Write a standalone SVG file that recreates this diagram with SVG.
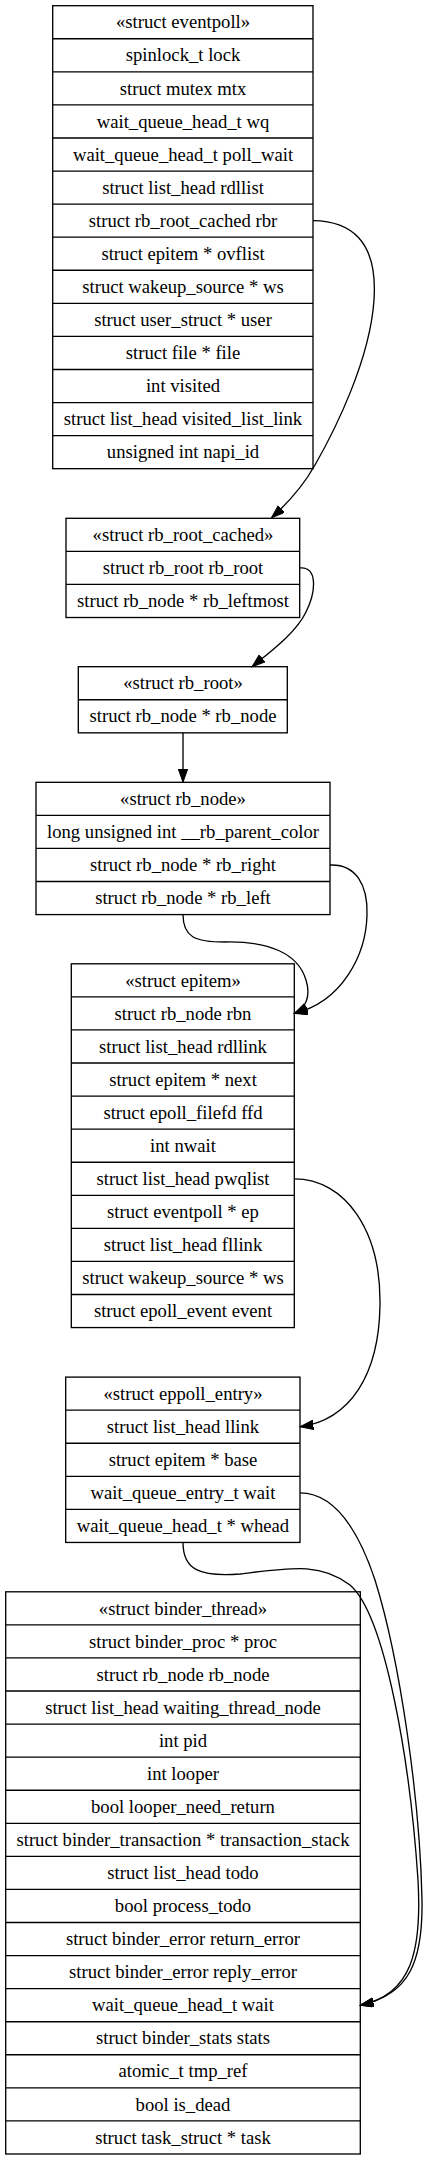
<svg xmlns="http://www.w3.org/2000/svg" width="428" height="2160" viewBox="0 0 428 2160">
<style>
.box{fill:#fff;stroke:#000;stroke-width:1.33}
.sep{fill:none;stroke:#000;stroke-width:1.33}
text{font-family:"Liberation Serif","Times New Roman",serif;font-size:18.67px;fill:#000;text-anchor:middle}
.edge{fill:none;stroke:#000;stroke-width:1.33}
</style>
<defs>
<marker id="arr" markerUnits="userSpaceOnUse" markerWidth="15" markerHeight="11" refX="13.3" refY="4.67" orient="auto">
<path d="M0,0 L13.3,4.67 L0,9.33 z" fill="#000" stroke="#000" stroke-width="1"/>
</marker>
</defs>
<rect width="428" height="2160" fill="#fff"/>
<g id="eventpoll">
<rect class="box" x="52.7" y="5.7" width="260.3" height="462.98"/>
<path class="sep" d="M52.7,38.77H313M52.7,71.84H313M52.7,104.91H313M52.7,137.98H313M52.7,171.05H313M52.7,204.12H313M52.7,237.19H313M52.7,270.26H313M52.7,303.33H313M52.7,336.4H313M52.7,369.47H313M52.7,402.54H313M52.7,435.61H313"/>
<text x="183" y="28.4">«struct eventpoll»</text>
<text x="183" y="61.47">spinlock_t lock</text>
<text x="183" y="94.54">struct mutex mtx</text>
<text x="183" y="127.61">wait_queue_head_t wq</text>
<text x="183" y="160.68">wait_queue_head_t poll_wait</text>
<text x="183" y="193.75">struct list_head rdllist</text>
<text x="183" y="226.82">struct rb_root_cached rbr</text>
<text x="183" y="259.89">struct epitem * ovflist</text>
<text x="183" y="292.96">struct wakeup_source * ws</text>
<text x="183" y="326.03">struct user_struct * user</text>
<text x="183" y="359.1">struct file * file</text>
<text x="183" y="392.17">int visited</text>
<text x="183" y="425.24">struct list_head visited_list_link</text>
<text x="183" y="458.31">unsigned int napi_id</text>
</g>
<g id="rb_root_cached">
<rect class="box" x="66" y="518.3" width="233.7" height="99.21"/>
<path class="sep" d="M66,551.37H299.7M66,584.44H299.7"/>
<text x="183" y="541">«struct rb_root_cached»</text>
<text x="183" y="574.07">struct rb_root rb_root</text>
<text x="183" y="607.14">struct rb_node * rb_leftmost</text>
</g>
<g id="rb_root">
<rect class="box" x="78.3" y="666.7" width="209" height="66.14"/>
<path class="sep" d="M78.3,699.77H287.3"/>
<text x="183" y="689.4">«struct rb_root»</text>
<text x="183" y="722.47">struct rb_node * rb_node</text>
</g>
<g id="rb_node">
<rect class="box" x="36" y="782.3" width="294" height="132.28"/>
<path class="sep" d="M36,815.37H330M36,848.44H330M36,881.51H330"/>
<text x="183" y="805">«struct rb_node»</text>
<text x="183" y="838.07">long unsigned int __rb_parent_color</text>
<text x="183" y="871.14">struct rb_node * rb_right</text>
<text x="183" y="904.21">struct rb_node * rb_left</text>
</g>
<g id="epitem">
<rect class="box" x="71.3" y="963.8" width="223" height="363.77"/>
<path class="sep" d="M71.3,996.87H294.3M71.3,1029.94H294.3M71.3,1063.01H294.3M71.3,1096.08H294.3M71.3,1129.15H294.3M71.3,1162.22H294.3M71.3,1195.29H294.3M71.3,1228.36H294.3M71.3,1261.43H294.3M71.3,1294.5H294.3"/>
<text x="183" y="986.5">«struct epitem»</text>
<text x="183" y="1019.57">struct rb_node rbn</text>
<text x="183" y="1052.64">struct list_head rdllink</text>
<text x="183" y="1085.71">struct epitem * next</text>
<text x="183" y="1118.78">struct epoll_filefd ffd</text>
<text x="183" y="1151.85">int nwait</text>
<text x="183" y="1184.92">struct list_head pwqlist</text>
<text x="183" y="1217.99">struct eventpoll * ep</text>
<text x="183" y="1251.06">struct list_head fllink</text>
<text x="183" y="1284.13">struct wakeup_source * ws</text>
<text x="183" y="1317.2">struct epoll_event event</text>
</g>
<g id="eppoll_entry">
<rect class="box" x="65.7" y="1377.1" width="234.3" height="165.35"/>
<path class="sep" d="M65.7,1410.17H300M65.7,1443.24H300M65.7,1476.31H300M65.7,1509.38H300"/>
<text x="183" y="1399.8">«struct eppoll_entry»</text>
<text x="183" y="1432.87">struct list_head llink</text>
<text x="183" y="1465.94">struct epitem * base</text>
<text x="183" y="1499.01">wait_queue_entry_t wait</text>
<text x="183" y="1532.08">wait_queue_head_t * whead</text>
</g>
<g id="binder_thread">
<rect class="box" x="5.7" y="1591.8" width="354.6" height="562.19"/>
<path class="sep" d="M5.7,1624.87H360.3M5.7,1657.94H360.3M5.7,1691.01H360.3M5.7,1724.08H360.3M5.7,1757.15H360.3M5.7,1790.22H360.3M5.7,1823.29H360.3M5.7,1856.36H360.3M5.7,1889.43H360.3M5.7,1922.5H360.3M5.7,1955.57H360.3M5.7,1988.64H360.3M5.7,2021.71H360.3M5.7,2054.78H360.3M5.7,2087.85H360.3M5.7,2120.92H360.3"/>
<text x="183" y="1614.5">«struct binder_thread»</text>
<text x="183" y="1647.57">struct binder_proc * proc</text>
<text x="183" y="1680.64">struct rb_node rb_node</text>
<text x="183" y="1713.71">struct list_head waiting_thread_node</text>
<text x="183" y="1746.78">int pid</text>
<text x="183" y="1779.85">int looper</text>
<text x="183" y="1812.92">bool looper_need_return</text>
<text x="183" y="1845.99">struct binder_transaction * transaction_stack</text>
<text x="183" y="1879.06">struct list_head todo</text>
<text x="183" y="1912.13">bool process_todo</text>
<text x="183" y="1945.2">struct binder_error return_error</text>
<text x="183" y="1978.27">struct binder_error reply_error</text>
<text x="183" y="2011.34">wait_queue_head_t wait</text>
<text x="183" y="2044.41">struct binder_stats stats</text>
<text x="183" y="2077.48">atomic_t tmp_ref</text>
<text x="183" y="2110.55">bool is_dead</text>
<text x="183" y="2143.62">struct task_struct * task</text>
</g>
<g id="connectors">
<path class="edge" marker-end="url(#arr)" d="M313,220.6 C350,221 378,240 374,300 C370,360 335,430 315,465 C302,488 288,503 271.5,517.8"/>
<path class="edge" marker-end="url(#arr)" d="M299.7,567.9 C318,566 316,592 306,612 C296,633 270,652 252,666.7"/>
<path class="edge" marker-end="url(#arr)" d="M183,732.84 L183,782.3"/>
<path class="edge" marker-end="url(#arr)" d="M330,865 C356,864 368,885 367,915 C366,955 342,1002 294.3,1013.4"/>
<path class="edge" marker-end="url(#arr)" d="M183,914.6 C183,937 195,942 225,942 C268,941 298,953 306,980 C311,996 306,1008 294.3,1013.4"/>
<path class="edge" marker-end="url(#arr)" d="M294.3,1178.8 C345,1179 381,1230 380,1305 C379,1375 350,1420 300,1426.7"/>
<path class="edge" marker-end="url(#arr)" d="M300,1492.9 C330,1493 355,1520 375,1580 C400,1660 420,1800 422,1900 C423,1960 410,1995 360.3,2005.1"/>
<path class="edge" marker-end="url(#arr)" d="M183,1542.45 C183,1570 200,1577 240,1574 C290,1568 320,1562 350,1585 C385,1615 410,1760 418,1880 C422,1950 412,1995 360.3,2005.1"/>
</g>
</svg>
